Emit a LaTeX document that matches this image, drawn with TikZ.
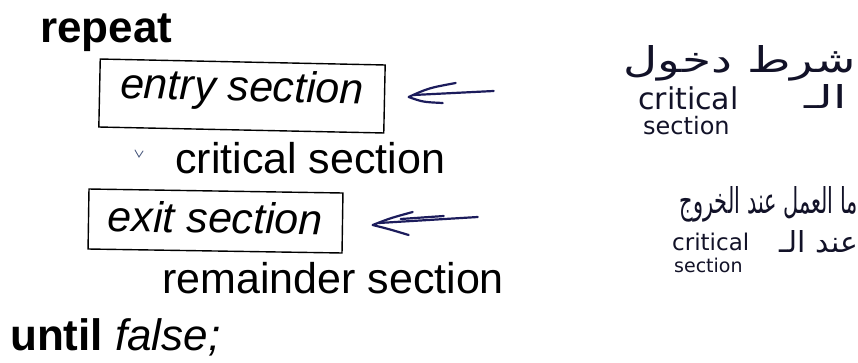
\documentclass[tikz,border=0pt]{standalone}
\usepackage{fontspec}
\usepackage{graphicx}
\setmainfont{Liberation Sans}
\newfontfamily\arabicfont[Script=Arabic]{DejaVu Sans}
\newfontfamily\handfont{DejaVu Sans}
\TeXXeTstate=1
\usetikzlibrary{calc}

\definecolor{arrowink}{RGB}{28,28,92}
\definecolor{noteink}{RGB}{18,18,40}
\definecolor{tickink}{RGB}{80,95,130}

\begin{document}
\begin{tikzpicture}[x=1pt,y=-1pt,
  code/.style={font=\fontsize{43}{43}\selectfont, inner sep=0pt, anchor=base west, text=black},
  secbox/.style={draw, line width=1.4pt, inner sep=0pt,
                 font=\fontsize{43}{43}\selectfont\itshape},
  ink/.style={draw=arrowink, line width=2.2pt, line cap=round, line join=round},
  note/.style={text=noteink, inner sep=0pt},
  hand/.style={note, anchor=base west},
]
\useasboundingbox (0,0) rectangle (858,362);
\fill[white] (0,0) rectangle (858,362);

% pseudo-code of the process structure
\node[code, font=\fontsize{44}{44}\selectfont\bfseries] (rep) at (40,42) {repeat};
\node[secbox, rotate=-1.2, minimum width=285pt, minimum height=68pt,
      text height=30pt, text depth=20pt] (entry) at (242,96) {entry section};
\node[code] (crit) at (175,173) {critical section};
\node[secbox, rotate=-0.9, minimum width=254pt, minimum height=60pt,
      text height=32pt, text depth=8pt] (exit) at (215.5,221) {exit section};
\node[code] (rem) at (162,293) {remainder section};
\node[code, font=\fontsize{44}{44}\selectfont] (until) at (10,350) {\textbf{until} \textit{false;}};

% small pen tick beside the critical section
\draw[draw=tickink, line width=0.9pt, line cap=round] (135,150) -- (139,157) -- (143,151);

% hand-drawn arrow pointing at the entry section
\coordinate (tip1) at ($(entry.east)+(23.5,-2)$);
\coordinate (tail1) at ($(tip1)+(85,-6)$);
\draw[ink] (tail1) -- ($(tip1)+(5,-2)$);
\draw[ink] ($(tip1)+(47,-14)$) .. controls ($(tip1)+(20,-9)$) .. (tip1)
           .. controls ($(tip1)+(14,5)$) .. ($(tip1)+(34,6)$);

% hand-drawn arrow pointing at the exit section
\coordinate (tip2) at ($(exit.east)+(29.5,2)$);
\coordinate (tail2) at ($(tip2)+(105,-8)$);
\draw[ink] (tail2) -- ($(tip2)+(6,-2)$);
\draw[ink] ($(tip2)+(28,-6)$) -- ($(tip2)+(71,-9)$);
\draw[ink] ($(tip2)+(40,-13)$) .. controls ($(tip2)+(18,-7)$) .. (tip2)
           .. controls ($(tip2)+(16,4)$) .. ($(tip2)+(36,10)$);

% note on the entry section
\node[note, anchor=base east] (n1a) at (856,72)
  {\resizebox{232pt}{27pt}{\arabicfont\beginR شرط دخول\endR}};
\node[hand, font=\handfont\fontsize{30}{30}\selectfont, text depth=0pt] (n1b) at (638,109) {critical};
\node[note, anchor=base east] (n1c) at (847,108)
  {\resizebox{42pt}{24pt}{\arabicfont\beginR الـ\endR}};
\node[hand, font=\handfont\fontsize{24}{24}\selectfont, text height=13pt] (n1d) at (643,134) {section};

% note on the exit section
\node[note, anchor=base east] (n2a) at (858,213)
  {\resizebox{178pt}{27pt}{\arabicfont\beginR ما العمل عند الخروج\endR}};
\node[hand, font=\handfont\fontsize{23}{23}\selectfont, text depth=0pt] (n2b) at (672,250) {critical};
\node[note, anchor=base east] (n2c) at (858,252)
  {\resizebox{78pt}{22pt}{\arabicfont\beginR عند الـ\endR}};
\node[hand, font=\handfont\fontsize{19}{19}\selectfont, text height=11pt] (n2d) at (674,272) {section};
\end{tikzpicture}
\end{document}
